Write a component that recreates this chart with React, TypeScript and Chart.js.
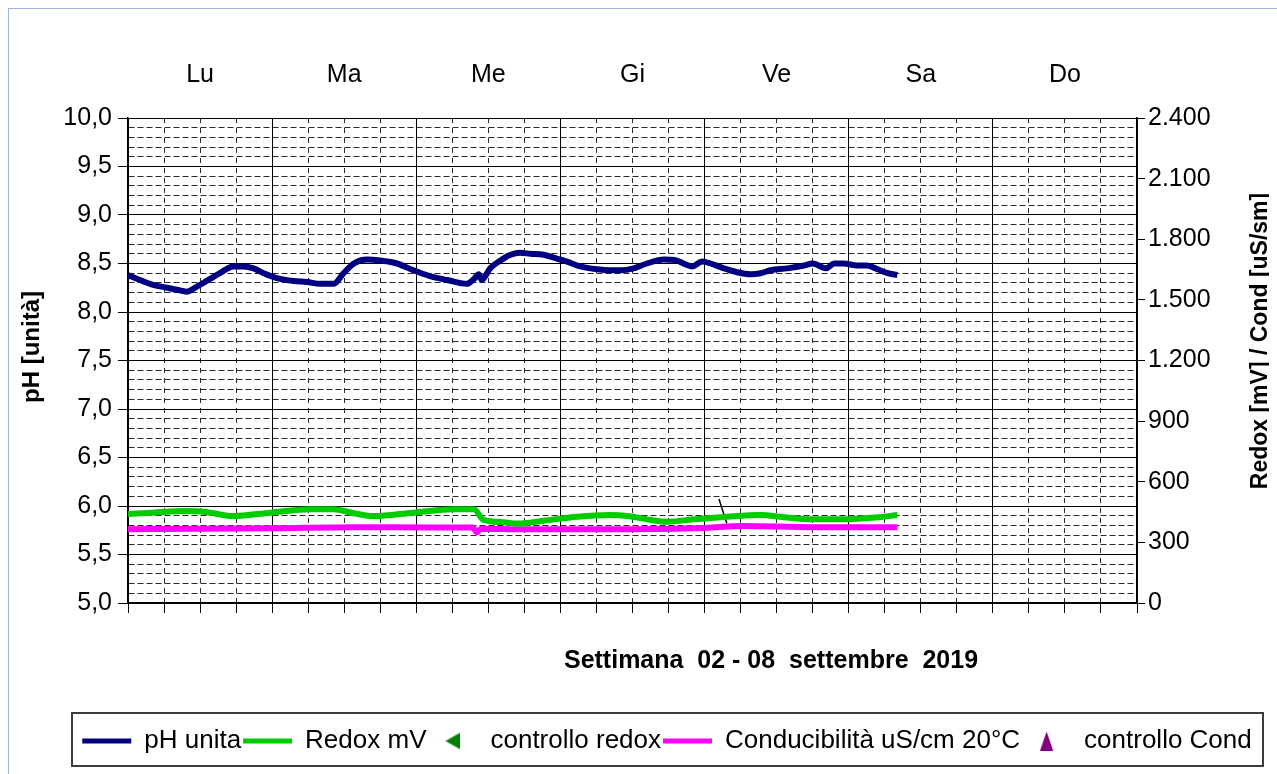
import React, { useEffect, useRef } from "react";
import { Chart, registerables } from "chart.js";

Chart.register(...registerables);

const FONT = "'Liberation Sans', Arial, Helvetica, sans-serif";

// ---- data ----
const dayLabels = ["Lu", "Ma", "Me", "Gi", "Ve", "Sa", "Do"];

// hours since Monday 00:00
const phHours = [0, 2, 4.2, 6.5, 8.1, 9.8, 11.4, 13.1, 15.3, 17.5, 19.2, 20.9, 22.6, 24.8, 27.6, 29.8, 32, 34.2, 35.9, 37.6, 39.8, 42, 44.8, 47.5, 50.3, 53.1, 56.4, 57.6, 58.4, 58.9, 60.3, 62.5, 63.7, 65.3, 67, 69.2, 70.9, 73.1, 75.3, 78.1, 80.3, 82, 84.2, 86.4, 89.2, 91.4, 92.5, 93.9, 95.6, 97, 99.2, 101.4, 103.7, 105.3, 107, 109.8, 112.6, 114, 116.2, 117.6, 119.2, 121.4, 123.1, 124.8, 126.5, 128.1];
const phValues = [8.38, 8.33, 8.28, 8.25, 8.23, 8.21, 8.26, 8.32, 8.4, 8.47, 8.47, 8.45, 8.4, 8.35, 8.32, 8.31, 8.29, 8.29, 8.4, 8.5, 8.54, 8.53, 8.5, 8.43, 8.37, 8.33, 8.29, 8.34, 8.39, 8.33, 8.45, 8.55, 8.59, 8.61, 8.6, 8.59, 8.56, 8.52, 8.47, 8.44, 8.43, 8.43, 8.45, 8.5, 8.54, 8.53, 8.5, 8.47, 8.52, 8.5, 8.45, 8.41, 8.39, 8.4, 8.43, 8.45, 8.48, 8.5, 8.45, 8.5, 8.5, 8.48, 8.48, 8.44, 8.4, 8.38];

const redoxHours = [0, 4.2, 9.8, 12.6, 17.5, 23.7, 30.3, 34.2, 37.6, 40.9, 47.5, 54.2, 57.6, 59.2, 62.5, 64.8, 69.2, 74.8, 80.3, 83.1, 87, 89.8, 94.2, 99.8, 105.3, 109.2, 113.7, 119.2, 124.8, 128.1];
const redoxValues = [440, 447, 455, 452, 430, 447, 464, 464, 444, 430, 447, 464, 464, 411, 400, 393, 407, 427, 435, 430, 411, 402, 414, 427, 435, 424, 414, 414, 424, 435];

const condHours = [0, 12, 24, 37.6, 50, 57.4, 58.1, 58.8, 64.8, 80.3, 94.2, 102.6, 113.7, 128.1];
const condValues = [365, 367, 370, 375, 374, 374, 350, 367, 365, 365, 370, 381, 375, 375];

const controlloRedoxHours: number[] = [];
const controlloRedoxValues: number[] = [];
const controlloCondHours: number[] = [];
const controlloCondValues: number[] = [];

const markHours = [98.4, 99.7];
const markValues = [515, 394];

const xTickHours = [0, 6, 12, 18, 24, 30, 36, 42, 48, 54, 60, 66, 72, 78, 84, 90, 96, 102, 108, 114, 120, 126, 132, 138, 144, 150, 156, 162, 168];
const phTickValues = Array.from({ length: 51 }, (_, i) => Math.round((5 + i * 0.1) * 10) / 10);
const rightTickValues = [0, 300, 600, 900, 1200, 1500, 1800, 2100, 2400];

const xTitle = "Settimana  02 - 08  settembre  2019";
const leftTitle = "pH [unità]";
const rightTitle = "Redox [mV] / Cond [uS/sm]";

const pts = (xs: number[], ys: number[]) => xs.map((x, i) => ({ x, y: ys[i] }));
const isMajorPh = (v: number) => Math.abs(v * 2 - Math.round(v * 2)) < 1e-6;
const isDay = (v: number) => Math.abs(v % 24) < 1e-6;

function triangleMarker(color: string, dir: "left" | "up") {
  const c = document.createElement("canvas");
  const w = dir === "left" ? 15 : 15;
  const h = 19;
  c.width = w;
  c.height = h;
  const g = c.getContext("2d");
  if (g) {
    g.fillStyle = color;
    g.beginPath();
    if (dir === "left") {
      g.moveTo(0, h / 2);
      g.lineTo(w, 1);
      g.lineTo(w, h - 1);
    } else {
      g.moveTo(w / 2, 0);
      g.lineTo(w - 1, h);
      g.lineTo(1, h);
    }
    g.closePath();
    g.fill();
  }
  return c;
}

const titlesPlugin = {
  id: "customTitles",
  afterDraw(chart: any) {
    const { ctx, chartArea } = chart;
    ctx.save();
    ctx.fillStyle = "#000";
    ctx.textAlign = "center";
    ctx.textBaseline = "middle";
    ctx.font = `bold 25px ${FONT}`;
    ctx.fillText(xTitle, chartArea.left + 643, chartArea.bottom + 58);

    ctx.save();
    ctx.font = `bold 24px ${FONT}`;
    ctx.translate(23, chartArea.top + 229);
    ctx.rotate(-Math.PI / 2);
    ctx.fillText(leftTitle, 0, 0);
    ctx.restore();

    ctx.save();
    ctx.font = `bold 23px ${FONT}`;
    ctx.translate(chartArea.right + 124, chartArea.top + 223);
    ctx.rotate(-Math.PI / 2);
    ctx.fillText(rightTitle, 0, 0);
    ctx.restore();

    // legend frame
    ctx.strokeStyle = "#3c3c3c";
    ctx.lineWidth = 2;
    ctx.strokeRect(63, 704, 1191, 53);
    ctx.restore();
  },
};

export default function App() {
  const ref = useRef<HTMLCanvasElement>(null);

  useEffect(() => {
    const canvas = ref.current;
    if (!canvas) return;
    Chart.defaults.font.family = FONT;
    Chart.defaults.color = "#000";

    const triLeft = triangleMarker("#008000", "left");
    const triUp = triangleMarker("#800080", "up");

    const chart = new Chart(canvas, {
      type: "line",
      data: {
        datasets: [
          {
            label: "pH unita",
            data: pts(phHours, phValues),
            yAxisID: "y",
            xAxisID: "x",
            borderColor: "#000080",
            backgroundColor: "#000080",
            borderWidth: 6,
            pointRadius: 0,
            pointStyle: "line",
            pointBorderWidth: 5,
            pointBorderColor: "#000080",
            cubicInterpolationMode: "monotone",
          },
          {
            label: "Redox mV",
            data: pts(redoxHours, redoxValues),
            yAxisID: "y2",
            xAxisID: "x",
            borderColor: "#00CC00",
            backgroundColor: "#00CC00",
            borderWidth: 6,
            pointRadius: 0,
            pointStyle: "line",
            pointBorderWidth: 5,
            pointBorderColor: "#00CC00",
            cubicInterpolationMode: "monotone",
          },
          {
            label: "controllo redox",
            data: pts(controlloRedoxHours, controlloRedoxValues),
            yAxisID: "y2",
            xAxisID: "x",
            showLine: false,
            borderColor: "#008000",
            backgroundColor: "#008000",
            pointStyle: triLeft,
            pointRadius: 9,
            pointBorderWidth: 0,
            pointBackgroundColor: "#008000",
            pointBorderColor: "#008000",
          },
          {
            label: "Conducibilità uS/cm 20°C",
            data: pts(condHours, condValues),
            yAxisID: "y2",
            xAxisID: "x",
            borderColor: "#FF00FF",
            backgroundColor: "#FF00FF",
            borderWidth: 6,
            pointRadius: 0,
            pointStyle: "line",
            pointBorderWidth: 5,
            pointBorderColor: "#FF00FF",
            cubicInterpolationMode: "monotone",
          },
          {
            label: "controllo Cond",
            data: pts(controlloCondHours, controlloCondValues),
            yAxisID: "y2",
            xAxisID: "x",
            showLine: false,
            borderColor: "#800080",
            backgroundColor: "#800080",
            pointStyle: triUp,
            pointRadius: 9,
            pointBorderWidth: 0,
            pointBackgroundColor: "#800080",
            pointBorderColor: "#800080",
          },
          {
            label: "",
            data: pts(markHours, markValues),
            yAxisID: "y2",
            xAxisID: "x",
            borderColor: "#000",
            borderWidth: 1.5,
            pointRadius: 0,
          },
        ],
      },
      options: {
        responsive: false,
        maintainAspectRatio: false,
        devicePixelRatio: 1,
        animation: false,
        events: [],
        layout: { padding: { left: 56, top: 0, right: 0, bottom: 10 }, autoPadding: false },
        plugins: {
          title: { display: false },
          tooltip: { enabled: false },
          legend: {
            display: true,
            position: "bottom",
            labels: {
              usePointStyle: true,
              pointStyleWidth: 49,
              boxHeight: 13,
              padding: 2,
              color: "#000",
              font: { size: 26, family: FONT },
              filter: (item: any) => item.text !== "",
            },
          },
        },
        scales: {
          x: {
            type: "linear",
            position: "bottom",
            min: 0,
            max: 168,
            afterBuildTicks: (s: any) => {
              s.ticks = xTickHours.map((v) => ({ value: v }));
            },
            afterFit: (s: any) => {
              s.height = 123;
            },
            ticks: { display: false },
            grid: {
              color: (c: any) => (c.tick && isDay(c.tick.value) ? "#000" : "#2a2a2a"),
              lineWidth: 1,
              drawTicks: true,
              tickLength: 10,
              tickColor: "#000",
              tickWidth: 1,
            },
            border: {
              display: true,
              color: "#000",
              width: 2,
              dash: (c: any) => (!c.tick || isDay(c.tick.value) ? [] : [5, 5]),
            },
          },
          xTop: {
            type: "linear",
            position: "top",
            min: 0,
            max: 168,
            afterBuildTicks: (s: any) => {
              s.ticks = dayLabels.map((_, i) => ({ value: i * 24 + 12 }));
            },
            afterFit: (s: any) => {
              s.height = 109;
            },
            ticks: {
              autoSkip: false,
              maxRotation: 0,
              padding: 28,
              color: "#000",
              font: { size: 25, family: FONT },
              callback: (_v: any, i: number) => dayLabels[i],
            },
            grid: { display: false, drawTicks: false },
            border: { display: false },
          },
          y: {
            type: "linear",
            position: "left",
            min: 5,
            max: 10,
            afterBuildTicks: (s: any) => {
              s.ticks = phTickValues.map((v) => ({ value: v }));
            },
            afterFit: (s: any) => {
              s.width = 63;
            },
            ticks: {
              autoSkip: false,
              padding: 6,
              color: "#000",
              font: { size: 25, family: FONT },
              callback: (v: any) => (isMajorPh(Number(v)) ? Number(v).toFixed(1).replace(".", ",") : ""),
            },
            grid: {
              color: (c: any) => (c.tick && isMajorPh(c.tick.value) ? "#000" : "#2a2a2a"),
              lineWidth: 1,
              drawTicks: true,
              tickLength: 10,
              tickColor: (c: any) => (c.tick && isMajorPh(c.tick.value) ? "#000" : "rgba(0,0,0,0)"),
            },
            border: {
              display: true,
              color: "#000",
              width: 1.5,
              dash: (c: any) => (!c.tick || isMajorPh(c.tick.value) ? [] : [6, 3]),
            },
          },
          y2: {
            type: "linear",
            position: "right",
            min: 0,
            max: 2400,
            afterBuildTicks: (s: any) => {
              s.ticks = rightTickValues.map((v) => ({ value: v }));
            },
            afterFit: (s: any) => {
              s.width = 132;
            },
            ticks: {
              autoSkip: false,
              padding: 3,
              color: "#000",
              font: { size: 25, family: FONT },
              callback: (v: any) => String(v).replace(/\B(?=(\d{3})+(?!\d))/g, "."),
            },
            grid: {
              drawOnChartArea: false,
              drawTicks: true,
              tickLength: 8,
              tickColor: "#000",
            },
            border: { display: true, color: "#000", width: 1.5 },
          },
        },
      },
      plugins: [titlesPlugin],
    } as any);

    return () => chart.destroy();
  }, []);

  return (
    <div
      style={{
        position: "fixed",
        left: 8,
        top: 8,
        width: 1269,
        height: 766,
        borderLeft: "1px solid #9DB5D8",
        borderTop: "1px solid #9DB5D8",
        overflow: "hidden",
        background: "#fff",
      }}
    >
      <canvas ref={ref} width={1260} height={765} style={{ display: "block", width: 1260, height: 765 }} />
    </div>
  );
}
